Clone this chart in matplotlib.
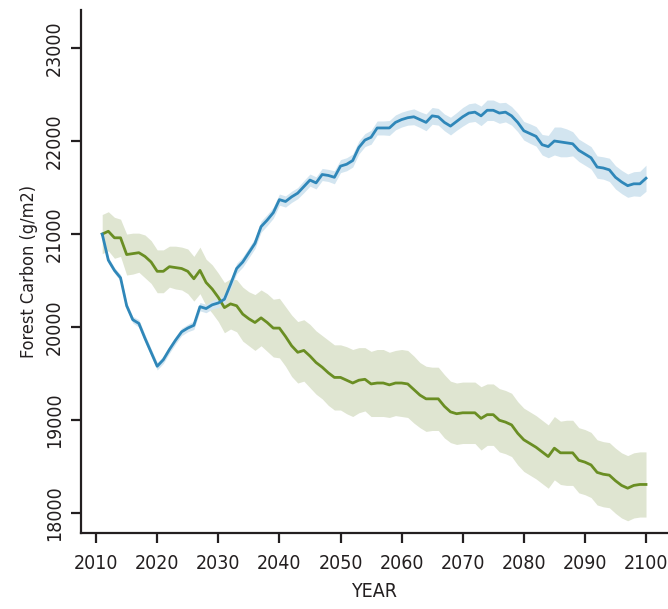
import numpy as np
import matplotlib.pyplot as plt

plt.rcParams['font.family'] = ['DejaVu Sans']
plt.rcParams['font.stretch'] = 'condensed'

years = list(range(2011, 2101))

blue_mean = [
    21000, 20720, 20610, 20530, 20230, 20080, 20040, 19880, 19730, 19580,
    19650, 19760, 19860, 19950, 19990, 20020, 20220, 20200, 20240, 20260,
    20300, 20460, 20630, 20700, 20800, 20900, 21080, 21150, 21230, 21370,
    21350, 21400, 21440, 21510, 21580, 21550, 21640, 21630, 21610, 21730,
    21750, 21790, 21930, 22010, 22040, 22140, 22140, 22140, 22200, 22230,
    22250, 22260, 22230, 22200, 22270, 22260, 22200, 22160, 22210, 22260,
    22300, 22310, 22270, 22330, 22330, 22300, 22310, 22270, 22200, 22110,
    22080, 22050, 21960, 21940, 22000, 21990, 21980, 21970, 21900, 21860,
    21820, 21720, 21710, 21690, 21610, 21560, 21520, 21540, 21540, 21600,
]
blue_spread = [
    30, 30, 30, 35, 35, 35, 40, 40, 40, 40,
    40, 40, 40, 40, 40, 45, 45, 45, 45, 50,
    50, 50, 55, 55, 55, 55, 60, 60, 60, 60,
    60, 60, 60, 65, 65, 65, 65, 65, 70, 70,
    70, 70, 70, 70, 75, 75, 75, 80, 80, 80,
    80, 85, 85, 90, 90, 90, 90, 95, 95, 100,
    100, 100, 105, 110, 110, 110, 105, 100, 100, 100,
    105, 105, 110, 120, 150, 160, 150, 130, 120, 120,
    120, 120, 120, 125, 125, 125, 125, 130, 135, 140,
]

green_mean = [
    21000, 21030, 20960, 20960, 20780, 20790, 20800, 20760, 20700, 20600,
    20600, 20650, 20640, 20630, 20600, 20520, 20610, 20480, 20410, 20320,
    20210, 20250, 20230, 20140, 20090, 20050, 20100, 20050, 19990, 19990,
    19900, 19800, 19730, 19750, 19690, 19620, 19570, 19510, 19460, 19460,
    19430, 19400, 19430, 19440, 19390, 19400, 19400, 19380, 19400, 19400,
    19390, 19330, 19270, 19230, 19230, 19230, 19150, 19090, 19070, 19080,
    19080, 19080, 19020, 19060, 19060, 19000, 18980, 18950, 18860, 18790,
    18750, 18710, 18660, 18610, 18700, 18650, 18650, 18650, 18570, 18550,
    18520, 18440, 18420, 18410, 18350, 18300, 18270, 18300, 18310, 18310,
]
green_spread = [
    210, 210, 220, 200, 220, 220, 210, 230, 230, 230,
    230, 220, 230, 230, 240, 240, 250, 250, 260, 260,
    270, 270, 280, 290, 290, 300, 300, 310, 310, 320,
    320, 330, 330, 330, 340, 340, 340, 350, 350, 350,
    360, 360, 350, 340, 350, 360, 360, 350, 350, 360,
    360, 360, 350, 350, 340, 340, 340, 330, 330, 330,
    330, 330, 340, 330, 330, 340, 340, 340, 340, 340,
    340, 340, 340, 340, 340, 340, 350, 350, 350, 350,
    350, 350, 350, 350, 350, 350, 350, 350, 350, 350,
]

x = np.array(years)
b = np.array(blue_mean)
bs = np.array(blue_spread)
g = np.array(green_mean)
gs = np.array(green_spread)

fig = plt.figure(figsize=(6.68, 6.09), dpi=100)
ax = fig.add_axes([0.121, 0.125, 0.879, 0.859])

ax.fill_between(x, g - gs, g + gs, color='#dfe5d1', lw=0)
ax.fill_between(x, b - bs, b + bs, color='#d3e5f0', lw=0)
ax.plot(x, g, color='#6a8e23', lw=2.0)
ax.plot(x, b, color='#2f87b9', lw=2.0)

ax.set_xlim(2007.5, 2103.6)
ax.set_ylim(17790, 23410)
ax.set_xticks(range(2010, 2101, 10))
ax.set_yticks(range(18000, 23001, 1000))
ax.set_yticklabels([str(v) for v in range(18000, 23001, 1000)], rotation=90, va='center')

for s in ['top', 'right']:
    ax.spines[s].set_visible(False)
for s in ['left', 'bottom']:
    ax.spines[s].set_linewidth(1.6)
    ax.spines[s].set_color('#231f20')

ax.tick_params(axis='both', length=7, width=1.6, color='#231f20', labelsize=14, labelcolor='#231f20')
ax.tick_params(axis='x', pad=8)
ax.tick_params(axis='y', pad=5)

ax.set_xlabel('YEAR', fontsize=14, color='#231f20', labelpad=7)
ax.set_ylabel('Forest Carbon (g/m2)', fontsize=13, color='#231f20', labelpad=5)

fig.savefig('out.png', dpi=100)
